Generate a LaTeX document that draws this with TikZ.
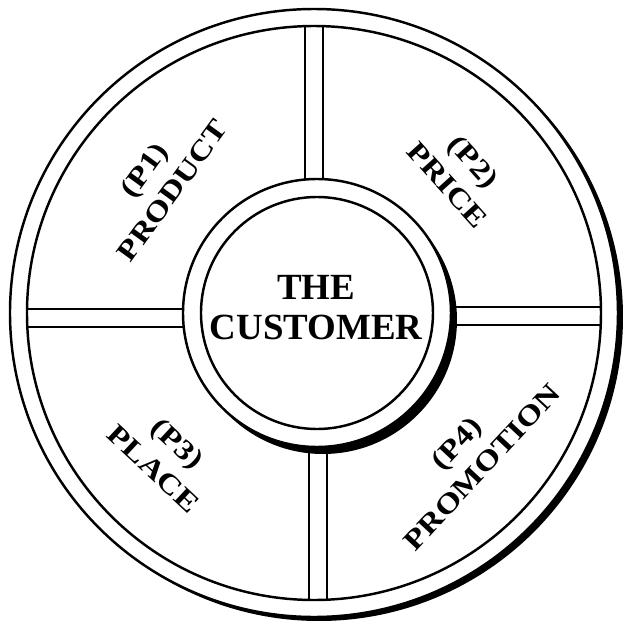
\documentclass[tikz,border=0pt]{standalone}
\usepackage{fontspec}
\setmainfont{Liberation Serif}
\usetikzlibrary{positioning}
\tikzset{>=latex}
% one unit = one pixel of the reference
\tikzset{ring/.style={line width=1.4pt, draw=black},
  divider/.style={line width=1.4pt},
  pname/.style={font=\bfseries\fontsize{16}{20}\selectfont, align=center, inner sep=0pt},
  hub/.style={font=\bfseries\fontsize{21}{22.7}\selectfont, align=center, inner sep=0pt}}
\newcommand{\wide}[1]{\scalebox{1.2}[1]{#1}}

\begin{document}
\begin{tikzpicture}[x=0.02cm, y=0.02cm]
  \useasboundingbox (-315,-310) rectangle (312,313);
  % outer wheel with its shadow
  \fill (4,-4) circle (304);
  \filldraw[ring, fill=white] (-1,0) circle (304);
  % the four spokes
  \foreach \x in {-10,8}
    \draw[divider] (\x,100) -- (\x,292);
  \foreach \x in {-6,12}
    \draw[divider] (\x,-100) -- (\x,-292);
  \foreach \y in {4,-14}
    \draw[divider] (-100,\y) -- (-292,\y);
  \foreach \y in {6,-12}
    \draw[divider] (100,\y) -- (292,\y);
  \fill[white, even odd rule] (-1,0) circle (300) (-1,0) circle (287);
  \draw[ring] (-1,0) circle (287);
  % hub with its shadow
  \fill (8,-7) circle (134);
  \filldraw[ring, fill=white] (2,0) circle (134);
  \draw[ring] (2,0) circle (116);
  \node[hub] (customer) at (1,5) {THE\\CUSTOMER};
  % the four Ps
  \node[pname, rotate=54] (product) at (-157,133) {\wide{(P1)}\\\wide{PRODUCT}};
  \node[pname, rotate=-48] (price) at (146,140) {\wide{(P2)}\\\wide{PRICE}};
  \node[pname, rotate=-43] (place) at (-149,-143) {\wide{(P3)}\\\wide{PLACE}};
  \node[pname, rotate=47] (promotion) at (154,-142) {\wide{(P4)}\\\wide{PROMOTION}};
\end{tikzpicture}
\end{document}
